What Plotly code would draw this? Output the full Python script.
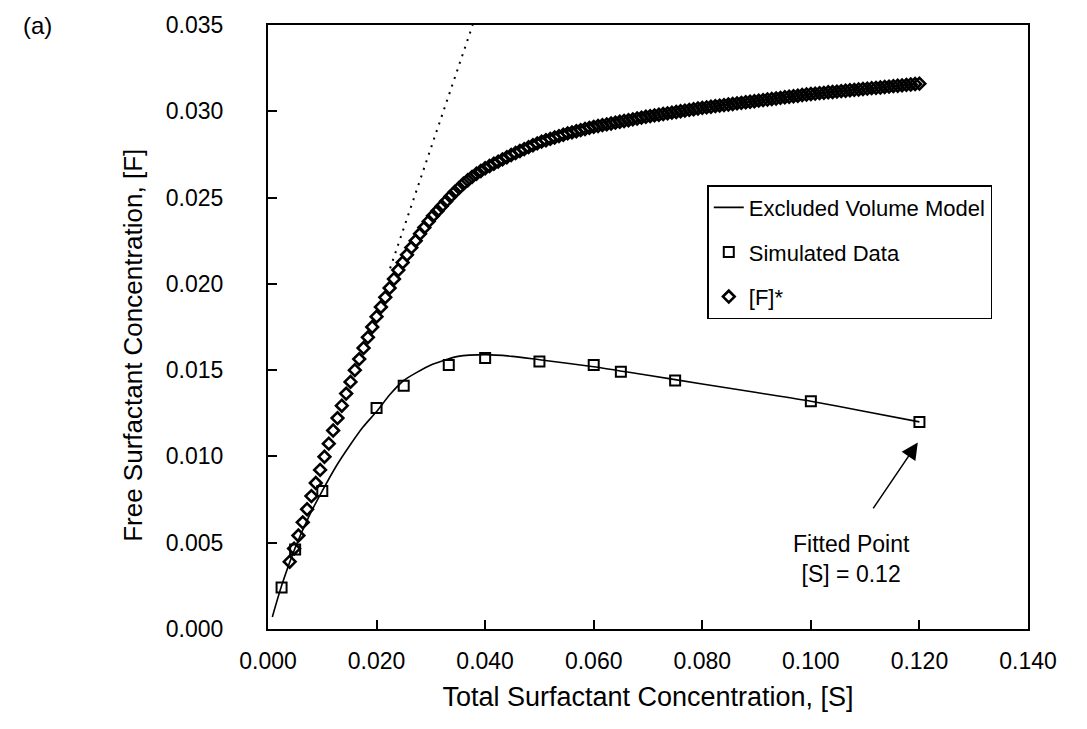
import plotly.graph_objects as go

# ---------------- data ----------------
sim_x = [0.0025, 0.005, 0.010, 0.020, 0.025, 0.0333, 0.040, 0.050, 0.060, 0.065, 0.075, 0.100, 0.120]
sim_y = [0.0024, 0.0046, 0.0080, 0.0128, 0.0141, 0.0153, 0.0157, 0.0155, 0.0153, 0.0149, 0.0144, 0.0132, 0.0120]

model_x = [0.0008, 0.0025, 0.005, 0.0075, 0.010, 0.0125, 0.015, 0.0175, 0.020, 0.0225, 0.025,
           0.030, 0.035, 0.040, 0.045, 0.050, 0.060, 0.070, 0.080, 0.090, 0.100, 0.110, 0.120]
model_y = [0.0007, 0.0025, 0.0047, 0.0065, 0.0080, 0.0094, 0.0106, 0.0117, 0.0126, 0.0136, 0.0144,
           0.0153, 0.0158, 0.0159, 0.0158, 0.0156, 0.0152, 0.0147, 0.0142, 0.0137, 0.0132, 0.0126, 0.0120]

fstar_x = [0.0040, 0.0048, 0.0056, 0.0064, 0.0072, 0.0080, 0.0088, 0.0096, 0.0104, 0.0112,
           0.0120, 0.0128, 0.0136, 0.0144, 0.0152, 0.0160, 0.0168, 0.0176, 0.0184, 0.0192,
           0.0200, 0.0208, 0.0216, 0.0224, 0.0232, 0.0240, 0.0248, 0.0256, 0.0264, 0.0272,
           0.0280, 0.0288, 0.0296, 0.0304, 0.0312, 0.0320, 0.0328, 0.0336, 0.0344, 0.0352,
           0.0360, 0.0368, 0.0376, 0.0384, 0.0392, 0.0400, 0.0408, 0.0416, 0.0424, 0.0432,
           0.0440, 0.0448, 0.0456, 0.0464, 0.0472, 0.0480, 0.0488, 0.0496, 0.0504, 0.0512,
           0.0520, 0.0528, 0.0536, 0.0544, 0.0552, 0.0560, 0.0568, 0.0576, 0.0584, 0.0592,
           0.0600, 0.0608, 0.0616, 0.0624, 0.0632, 0.0640, 0.0648, 0.0656, 0.0664, 0.0672,
           0.0680, 0.0688, 0.0696, 0.0704, 0.0712, 0.0720, 0.0728, 0.0736, 0.0744, 0.0752,
           0.0760, 0.0768, 0.0776, 0.0784, 0.0792, 0.0800, 0.0808, 0.0816, 0.0824, 0.0832,
           0.0840, 0.0848, 0.0856, 0.0864, 0.0872, 0.0880, 0.0888, 0.0896, 0.0904, 0.0912,
           0.0920, 0.0928, 0.0936, 0.0944, 0.0952, 0.0960, 0.0968, 0.0976, 0.0984, 0.0992,
           0.1000, 0.1008, 0.1016, 0.1024, 0.1032, 0.1040, 0.1048, 0.1056, 0.1064, 0.1072,
           0.1080, 0.1088, 0.1096, 0.1104, 0.1112, 0.1120, 0.1128, 0.1136, 0.1144, 0.1152,
           0.1160, 0.1168, 0.1176, 0.1184, 0.1192, 0.1200]
fstar_y = [0.00390, 0.00466, 0.00542, 0.00618, 0.00694, 0.00770, 0.00846, 0.00922, 0.00998, 0.01074,
           0.01150, 0.01222, 0.01294, 0.01364, 0.01432, 0.01500, 0.01564, 0.01628, 0.01690, 0.01750,
           0.01810, 0.01866, 0.01922, 0.01976, 0.02028, 0.02080, 0.02124, 0.02168, 0.02210, 0.02250,
           0.02290, 0.02326, 0.02362, 0.02394, 0.02422, 0.02450, 0.02478, 0.02506, 0.02532, 0.02556,
           0.02580, 0.02600, 0.02620, 0.02638, 0.02654, 0.02670, 0.02683, 0.02696, 0.02708, 0.02721,
           0.02734, 0.02747, 0.02758, 0.02770, 0.02781, 0.02792, 0.02803, 0.02814, 0.02824, 0.02832,
           0.02840, 0.02848, 0.02856, 0.02864, 0.02872, 0.02878, 0.02884, 0.02891, 0.02897, 0.02904,
           0.02910, 0.02915, 0.02920, 0.02924, 0.02929, 0.02934, 0.02939, 0.02944, 0.02948, 0.02953,
           0.02958, 0.02963, 0.02968, 0.02972, 0.02976, 0.02980, 0.02984, 0.02988, 0.02992, 0.02996,
           0.03000, 0.03004, 0.03008, 0.03012, 0.03016, 0.03020, 0.03023, 0.03026, 0.03030, 0.03033,
           0.03036, 0.03039, 0.03042, 0.03046, 0.03049, 0.03052, 0.03055, 0.03058, 0.03062, 0.03065,
           0.03068, 0.03071, 0.03074, 0.03078, 0.03081, 0.03084, 0.03087, 0.03090, 0.03094, 0.03097,
           0.03100, 0.03102, 0.03105, 0.03107, 0.03110, 0.03112, 0.03114, 0.03117, 0.03119, 0.03122,
           0.03124, 0.03126, 0.03129, 0.03131, 0.03134, 0.03136, 0.03138, 0.03141, 0.03143, 0.03146,
           0.03148, 0.03150, 0.03153, 0.03155, 0.03158, 0.03160]

tangent_x = [0.0225, 0.0377]
tangent_y = [0.0209, 0.0350]

x_ticks = [0.000, 0.020, 0.040, 0.060, 0.080, 0.100, 0.120, 0.140]
y_ticks = [0.000, 0.005, 0.010, 0.015, 0.020, 0.025, 0.030, 0.035]

FONT = "Liberation Sans, Arial, Helvetica, sans-serif"

fig = go.Figure()

fig.add_trace(go.Scatter(
    x=tangent_x, y=tangent_y, mode="lines",
    line=dict(color="black", width=2, dash="2px,6px"),
    showlegend=False, hoverinfo="skip"))

fig.add_trace(go.Scatter(
    x=model_x, y=model_y, mode="lines", name="Excluded Volume Model", legendgroup="g1",
    line=dict(color="black", width=1.6, shape="spline", smoothing=0.6)))

fig.add_trace(go.Scatter(
    x=sim_x, y=sim_y, mode="markers", name="Simulated Data", legendgroup="g2",
    marker=dict(symbol="square-open", size=10, color="black", line=dict(width=2, color="black"))))

fig.add_trace(go.Scatter(
    x=fstar_x, y=fstar_y, mode="markers", name="[F]*", legendgroup="g3",
    marker=dict(symbol="diamond-open", size=9, color="black", line=dict(width=2.6, color="black"))))

axis_common = dict(
    showgrid=False, zeroline=False, showline=True, linecolor="black", linewidth=2,
    mirror=True, ticks="inside", ticklen=9, tickwidth=2, tickcolor="black",
    tickfont=dict(family=FONT, size=23, color="black"),
)

fig.update_xaxes(
    range=[0, 0.14], tickvals=x_ticks, tickformat=".3f",
    title=dict(text="Total Surfactant Concentration, [S]", font=dict(family=FONT, size=27, color="black"), standoff=15),
    ticklabelstandoff=10,
    **axis_common)
fig.update_yaxes(
    range=[0, 0.035], tickvals=y_ticks, tickformat=".3f",
    ticklabelstandoff=38,
    **axis_common)

# y-axis title (placed as rotated text so it can sit slightly below the axis centre, as in the original)
fig.add_annotation(
    x=-0.178, y=0.47, xref="paper", yref="paper", xanchor="center", yanchor="middle",
    showarrow=False, textangle=-90, text="Free Surfactant Concentration, [F]",
    font=dict(family=FONT, size=26, color="black"))

fig.add_annotation(
    x=0.1197, y=0.0108, xref="x", yref="y",
    ax=0.1113, ay=0.0069, axref="x", ayref="y",
    showarrow=True, arrowhead=2, arrowsize=2.2, arrowwidth=1.5, arrowcolor="black", text="")
fig.add_annotation(
    x=0.1075, y=0.0058, xref="x", yref="y", showarrow=False,
    text="Fitted Point<br>[S] = 0.12", align="center", yanchor="top",
    font=dict(family=FONT, size=23, color="black"))

fig.add_annotation(
    x=-0.325, y=1.0, xref="paper", yref="paper", xanchor="left", yanchor="middle",
    showarrow=False, text="(a)",
    font=dict(family=FONT, size=24, color="black"))

fig.update_layout(
    width=1087, height=729,
    margin=dict(l=268, r=59, t=22, b=100),
    paper_bgcolor="white", plot_bgcolor="white",
    font=dict(family=FONT, color="black"),
    legend=dict(
        x=0.578, y=0.735, xanchor="left", yanchor="top",
        bordercolor="black", borderwidth=1.5, bgcolor="white",
        font=dict(family=FONT, size=22, color="black"),
        itemwidth=30, tracegroupgap=13,
    ),
)

fig.write_html("out.html")
